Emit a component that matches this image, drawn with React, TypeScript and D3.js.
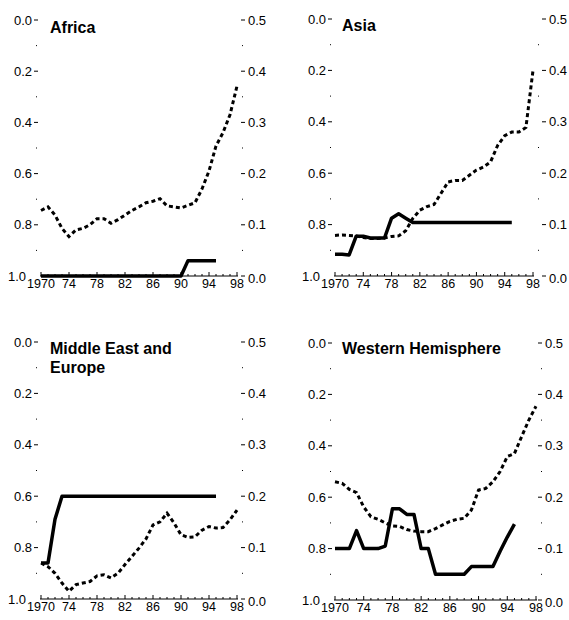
import React from "react";
import * as d3 from "d3";

const YEARS = [1970,1971,1972,1973,1974,1975,1976,1977,1978,1979,1980,1981,1982,1983,1984,1985,1986,1987,1988,1989,1990,1991,1992,1993,1994,1995,1996,1997,1998];
const LABEL_YEARS = [1970,1974,1978,1982,1986,1990,1994,1998];
const YEAR_LABELS = ["1970","74","78","82","86","90","94","98"];
const LEFT_TICKS = [0,0.2,0.4,0.6,0.8,1.0];
const LEFT_MINOR = [0.1,0.3,0.5,0.7,0.9];
const RIGHT_TICKS = [0,0.1,0.2,0.3,0.4,0.5];
const RIGHT_MINOR = [0.05,0.15,0.25,0.35,0.45];

// dashed series (right axis), 1970-1998
const africaRatio = [0.128,0.135,0.119,0.093,0.077,0.09,0.093,0.10,0.112,0.112,0.103,0.11,0.119,0.128,0.135,0.143,0.146,0.151,0.137,0.135,0.133,0.138,0.143,0.17,0.205,0.254,0.28,0.315,0.371];
const asiaRatio = [0.079,0.08,0.079,0.078,0.075,0.073,0.073,0.074,0.077,0.078,0.088,0.112,0.128,0.135,0.139,0.161,0.183,0.186,0.186,0.196,0.206,0.212,0.222,0.254,0.273,0.28,0.28,0.289,0.40];
const meRatio = [0.07,0.063,0.05,0.031,0.015,0.028,0.031,0.034,0.045,0.047,0.041,0.05,0.067,0.083,0.099,0.117,0.144,0.15,0.167,0.148,0.125,0.12,0.121,0.134,0.141,0.138,0.139,0.154,0.173];
const whRatio = [0.23,0.227,0.215,0.209,0.181,0.162,0.157,0.15,0.144,0.143,0.137,0.134,0.133,0.133,0.139,0.146,0.153,0.157,0.159,0.175,0.214,0.217,0.23,0.25,0.279,0.285,0.318,0.35,0.377];

// solid series (left axis, inverted), 1970-1995
const africaIndex = [1,1,1,1,1,1,1,1,1,1,1,1,1,1,1,1,1,1,1,1,1,0.94,0.94,0.94,0.94,0.94];
const asiaIndex = [0.915,0.915,0.918,0.845,0.845,0.852,0.852,0.852,0.775,0.758,0.775,0.792,0.792,0.792,0.792,0.792,0.792,0.792,0.792,0.792,0.792,0.792,0.792,0.792,0.792,0.792];
const meIndex = [0.86,0.86,0.69,0.6,0.6,0.6,0.6,0.6,0.6,0.6,0.6,0.6,0.6,0.6,0.6,0.6,0.6,0.6,0.6,0.6,0.6,0.6,0.6,0.6,0.6,0.6];
const whIndex = [0.8,0.8,0.8,0.73,0.8,0.8,0.8,0.79,0.645,0.645,0.667,0.667,0.8,0.8,0.9,0.9,0.9,0.9,0.9,0.87,0.87,0.87,0.87,0.81,0.755,0.705];

const FONT = "'Liberation Sans', Arial, Helvetica, sans-serif";

const PANELS = [
  { title: ["Africa"], ratio: africaRatio, index: africaIndex, left: 41, right: 237, top: 20, bottom: 276, rLab: 248, tx: 50, ty: 33 },
  { title: ["Asia"], ratio: asiaRatio, index: asiaIndex, left: 335, right: 533, top: 19, bottom: 276, rLab: 549, tx: 342, ty: 31 },
  { title: ["Middle East and", "Europe"], ratio: meRatio, index: meIndex, left: 41, right: 237, top: 342, bottom: 599, rLab: 248, tx: 50, ty: 354 },
  { title: ["Western Hemisphere"], ratio: whRatio, index: whIndex, left: 335, right: 536, top: 343, bottom: 600, rLab: 545, tx: 342, ty: 354 },
];

function Panel({ p }: { p: any }) {
  const x = d3.scaleLinear().domain([1970, 1998]).range([p.left, p.right]);
  const yL = d3.scaleLinear().domain([0, 1]).range([p.top, p.bottom]);
  const yR = d3.scaleLinear().domain([0, 0.5]).range([p.bottom, p.top]);
  const dashLine = d3.line<number>().x((_, i) => x(YEARS[i])).y((d) => yR(d));
  const solidLine = d3.line<number>().x((_, i) => x(YEARS[i])).y((d) => yL(d));
  return (
    <g fontFamily={FONT}>
      {/* x axis */}
      <line x1={p.left - 1} x2={p.right + 1} y1={p.bottom} y2={p.bottom} stroke="#000" strokeWidth={1} />
      {YEARS.map((yr) => {
        const major = LABEL_YEARS.includes(yr);
        return <line key={yr} x1={x(yr)} x2={x(yr)} y1={p.bottom} y2={p.bottom - (major ? 4 : 2)} stroke="#000" strokeWidth={1} />;
      })}
      {LABEL_YEARS.map((yr, i) => (
        <text key={yr} x={x(yr)} y={p.bottom + 12} fontSize={12.5} textAnchor="middle" fill="#000">{YEAR_LABELS[i]}</text>
      ))}
      {/* left axis */}
      {LEFT_TICKS.map((v) => (
        <g key={v}>
          {v < 1 && <line x1={p.left - 7} x2={p.left - 3} y1={yL(v)} y2={yL(v)} stroke="#000" strokeWidth={1} />}
          <text x={v < 1 ? p.left - 9 : p.left - 15} y={yL(v)} dy="0.35em" fontSize={13} textAnchor="end" fill="#000">{v.toFixed(1)}</text>
        </g>
      ))}
      {LEFT_MINOR.map((v) => (
        <rect key={v} x={p.left - 5} y={yL(v) - 0.5} width={1} height={1} fill="#000" />
      ))}
      {/* right axis */}
      {RIGHT_TICKS.map((v) => (
        <g key={v}>
          <line x1={p.rLab - 7} x2={p.rLab - 3} y1={yR(v)} y2={yR(v)} stroke="#000" strokeWidth={1} />
          <text x={p.rLab} y={yR(v) + (v === 0 ? 2 : 0)} dy="0.35em" fontSize={13} textAnchor="start" fill="#000">{v.toFixed(1)}</text>
        </g>
      ))}
      {RIGHT_MINOR.map((v) => (
        <rect key={v} x={p.right + 5} y={yR(v) - 0.5} width={1} height={1} fill="#000" />
      ))}
      {/* series */}
      <path d={dashLine(p.ratio) || ""} fill="none" stroke="#000" strokeWidth={3} strokeDasharray="4 3" />
      <path d={solidLine(p.index) || ""} fill="none" stroke="#000" strokeWidth={3.5} strokeLinejoin="round" />
      {/* title */}
      {p.title.map((t: string, i: number) => (
        <text key={t} x={p.tx} y={p.ty + i * 19} fontSize={16} fontWeight="bold" fill="#000">{t}</text>
      ))}
    </g>
  );
}

export default function App() {
  return (
    <svg width={569} height={620} style={{ position: "absolute", left: 0, top: 0, background: "#fff" }}>
      <rect x={0} y={0} width={569} height={620} fill="#fff" />
      {PANELS.map((p, i) => (
        <Panel key={i} p={p} />
      ))}
    </svg>
  );
}
